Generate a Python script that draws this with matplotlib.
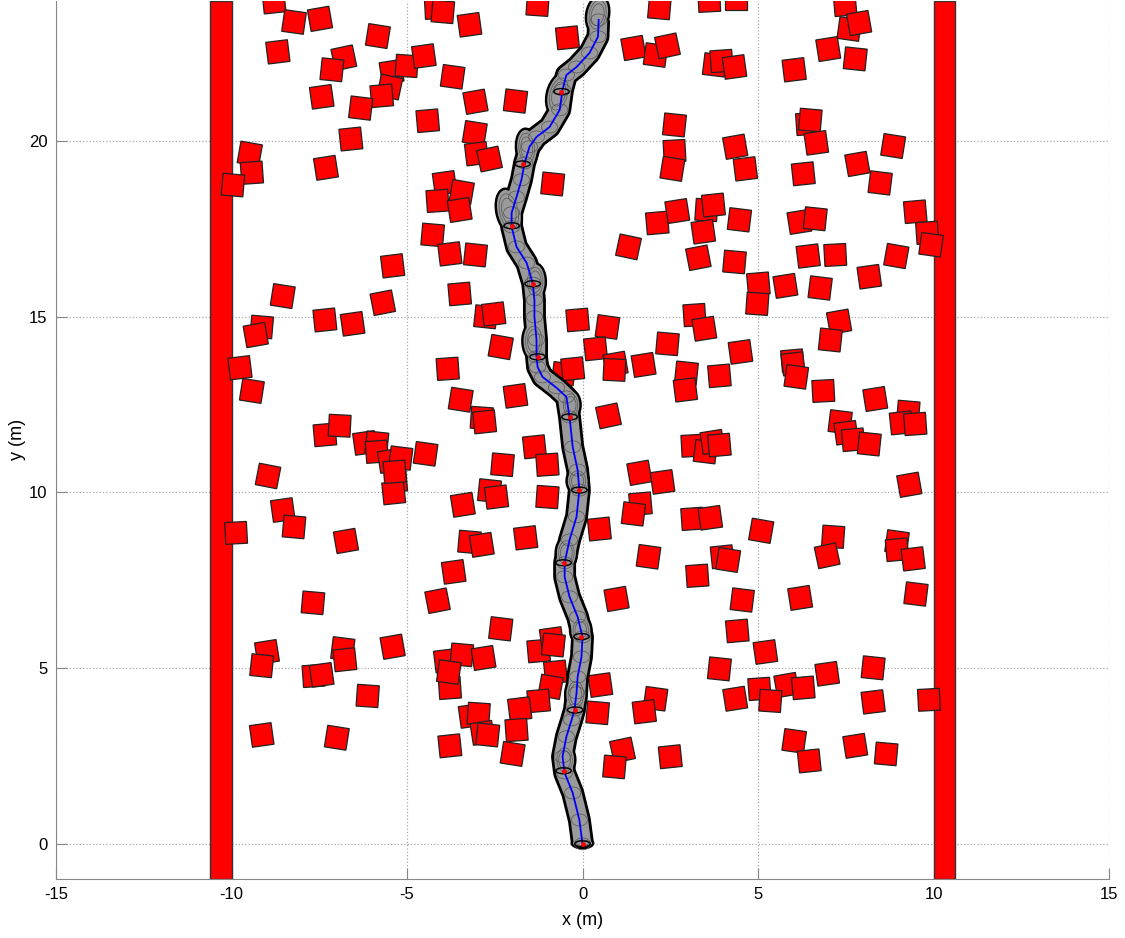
import matplotlib
matplotlib.use("Agg")
from matplotlib import pyplot as plt
from matplotlib.patches import Rectangle, Ellipse

# obstacle centres (m) and their tilt (deg)
obs_x = [-8.79, -8.22, -7.48, -5.83, -8.68, -6.80, -7.14, -5.44, -5.01, -4.52,
         -5.49, -5.72, -7.43, -6.32, -6.60, -9.48, -9.42, -9.96, -7.31, -5.41,
         -8.54, -5.69, -4.18, -3.98, -3.22, -1.28, -0.43, -3.70, -3.05, -1.91,
         -4.41, -3.07, -3.02, -2.65, -0.85, -3.93, -3.44, -4.13, -3.50, -4.27,
         -3.78, -3.05, -3.50, 1.45, 2.08, 2.42, 2.19, 3.61, 4.38, 3.76,
         3.96, 4.33, 2.62, 2.62, 2.56, 4.35, 4.64, 1.31, 2.13, 2.70,
         3.53, 3.73, 3.44, 4.47, 3.30, 4.33, 7.48, 7.60, 7.88, 7.00,
         7.77, 6.03, 6.40, 6.49, 6.66, 8.85, 6.29, 7.83, 8.48, 9.48,
         9.82, 9.93, 6.18, 6.63, 6.43, 7.20, 8.94, 8.17, 5.01, 4.98,
         5.78, 6.77, -7.34, -6.55, -9.14, -9.31, -9.76, -9.42, -7.34, -6.92,
         -6.20, -5.86, -5.86, -5.49, -5.18, -5.32, -5.38, -8.96, -8.54, -8.22,
         -9.87, -6.74, -2.76, -2.53, -0.14, 0.71, 3.19, 3.47, -2.33, 0.37,
         2.42, 4.50, -3.84, -0.54, -0.28, 0.94, 0.91, 1.74, 2.96, 2.93,
         3.90, -3.47, -1.91, 0.74, -2.87, -2.79, 3.13, 3.50, 3.70, 3.90,
         -4.47, -1.37, -1.00, -2.28, 1.62, 2.28, -2.65, -2.45, -1.00, -3.41,
         1.65, 1.45, 3.13, 3.64, 5.09, 0.48, -3.22, -2.87, -1.62, 1.88,
         3.27, 3.98, 4.15, -3.67, 7.31, 7.06, 5.98, 6.00, 6.09, 6.86,
         8.34, 9.28, 9.08, 9.48, 7.34, 7.51, 7.71, 8.17, 9.31, 7.14,
         6.97, 8.96, 8.96, 9.42, -7.68, -8.99, -9.14, -7.66, -7.43, -6.83,
         -6.77, -5.41, -6.12, -9.14, -7.00, -4.13, -2.33, -1.25, -0.88, -0.83,
         -3.90, -3.44, -2.82, -3.78, -3.81, -0.77, -0.91, -1.25, -3.19, -2.96,
         -2.85, -2.70, -1.79, -1.88, -1.99, -3.78, 0.51, 0.43, 0.97, 4.55,
         4.41, 5.21, 3.90, 4.35, 5.04, 2.08, 1.76, 1.14, 0.91, 2.50,
         6.20, 9.50, 6.97, 8.28, 5.81, 6.29, 5.35, 8.28, 9.87, 6.03,
         6.46, 7.77, 8.65, -5.35]
obs_y = [23.96, 23.39, 23.48, 22.99, 22.54, 22.37, 22.03, 21.97, 22.14, 22.42,
         21.54, 21.29, 21.26, 20.94, 20.06, 19.64, 19.10, 18.75, 19.24, 16.45,
         15.59, 15.40, 23.79, 23.68, 23.31, 23.88, 22.94, 21.83, 21.12, 21.14,
         20.58, 20.23, 19.64, 19.49, 18.78, 18.81, 18.55, 18.30, 18.04, 17.33,
         16.79, 16.76, 15.65, 22.65, 22.45, 22.71, 23.79, 23.99, 24.05, 22.17,
         22.28, 22.11, 20.46, 19.72, 19.21, 19.84, 19.21, 16.99, 17.67, 18.01,
         18.04, 18.18, 17.42, 17.76, 16.68, 16.56, 23.88, 23.19, 23.36, 22.62,
         22.34, 22.03, 20.49, 20.60, 19.95, 19.86, 19.07, 19.35, 18.81, 17.99,
         17.39, 17.05, 17.70, 17.79, 16.73, 16.76, 16.73, 16.14, 15.94, 15.37,
         15.88, 15.82, 14.91, 14.80, 14.71, 14.48, 13.55, 12.89, 11.64, 11.90,
         11.41, 11.41, 11.16, 10.90, 10.98, 10.33, 9.99, 10.47, 9.50, 9.02,
         8.85, 8.62, 15.00, 15.08, 14.91, 14.71, 15.05, 14.66, 14.14, 14.09,
         14.23, 14.00, 13.52, 13.38, 13.52, 13.66, 13.49, 13.63, 13.40, 12.92,
         13.32, 12.64, 12.75, 12.18, 12.12, 12.01, 11.33, 11.16, 11.44, 11.35,
         11.10, 11.30, 10.79, 10.79, 10.56, 10.30, 10.05, 9.87, 9.87, 9.65,
         9.68, 9.39, 9.25, 9.28, 8.91, 8.96, 8.59, 8.51, 8.71, 8.17,
         7.63, 8.17, 8.08, 7.74, 14.86, 14.34, 13.75, 13.66, 13.29, 12.89,
         12.66, 12.29, 11.98, 11.95, 12.01, 11.70, 11.50, 11.38, 10.22, 8.74,
         8.20, 8.59, 8.37, 8.11, 6.86, 5.46, 5.07, 4.78, 4.81, 5.55,
         5.24, 5.61, 4.21, 3.10, 3.02, 6.92, 6.12, 5.49, 5.83, 5.66,
         5.21, 5.38, 5.29, 4.44, 4.89, 4.89, 4.47, 4.07, 3.64, 3.70,
         3.16, 3.10, 3.84, 3.24, 2.56, 2.79, 4.52, 3.73, 6.97, 6.94,
         6.06, 5.46, 4.98, 4.13, 4.41, 4.13, 3.76, 2.67, 2.19, 2.48,
         7.00, 7.11, 4.84, 5.01, 4.52, 4.44, 4.07, 4.04, 4.10, 2.93,
         2.36, 2.79, 2.56, 10.59]
obs_tilt = [6, -8, 10, -9, 7, 12, -6, 9, -4, 8,
            -12, 5, 8, -7, 6, -10, 4, -5, 9, 7,
            -9, 11, 3, -5, 8, -4, 6, -8, 10, -7,
            5, -9, 7, 12, -6, 8, -10, 4, 9, -5,
            7, -6, 5, 10, -8, 12, -5, 3, 0, -7,
            4, 8, -6, 3, -9, 10, 7, -12, 5, 9,
            -4, 6, 8, -7, 11, -5, 5, -8, 10, 9,
            -6, 7, 4, -5, 8, -9, 6, 10, -7, 5,
            4, -8, 9, -6, 7, 3, -10, 8, 5, -4,
            9, -7, 6, 8, -5, 10, 7, -9, 5, -3,
            8, -6, 4, 9, -7, 5, 6, -11, 8, -5,
            3, 10, -6, 7, 5, -8, 4, 9, -10, 6,
            -5, 8, 4, -7, 6, 10, -3, 9, -6, 7,
            5, -9, 8, 12, -4, 6, 3, -7, 9, 5,
            -8, 6, 4, -5, 10, 8, -6, 7, -4, 9,
            5, -7, 4, 8, -10, 6, -5, 9, 7, -8,
            4, 6, -9, 8, 10, -6, 5, 7, -8, 3,
            9, -5, 6, 4, -7, 8, 5, -6, 10, -4,
            12, -8, 5, 7, -5, 9, -6, 4, 8, -7,
            6, 10, -4, 8, -9, 11, -7, 5, 8, -6,
            7, -5, 9, 4, -8, 6, -10, 5, 8, -4,
            9, -6, 7, 4, -9, 6, 8, -5, 10, -7,
            5, 8, -6, 9, 4, -8, 7, 12, -5, 6,
            9, -7, 8, -6, 10, 5, -4, 7, 3, -8,
            6, 9, -5, 4]
obs_side = 0.62

# corridor walls (m)
wall_left = [-10.6, 10.0]
wall_width = 0.6

# estimated robot path (m)
path_x = [0.0, -0.09, -0.28, -0.51, -0.57, -0.46, -0.31, -0.23, -0.17, -0.14,
          -0.03, 0.0, -0.14, -0.37, -0.51, -0.51, -0.37, -0.17, -0.09, -0.14,
          -0.28, -0.37, -0.46, -0.74, -1.14, -1.28, -1.31, -1.31, -1.37, -1.37,
          -1.42, -1.59, -1.88, -2.02, -2.02, -1.88, -1.74, -1.65, -1.51, -1.31,
          -0.94, -0.65, -0.57, -0.46, -0.17, 0.20, 0.44, 0.46]
path_y = [0.0, 0.68, 1.45, 2.02, 2.48, 3.05, 3.53, 3.81, 4.30, 4.75,
          5.32, 5.89, 6.46, 7.03, 7.60, 8.0, 8.65, 9.31, 10.07, 10.64,
          11.30, 12.15, 12.72, 12.98, 13.29, 13.57, 13.86, 14.34, 15.0, 15.48,
          15.96, 16.53, 16.99, 17.56, 17.96, 18.41, 18.9, 19.38, 19.84, 20.12,
          20.40, 20.89, 21.46, 21.88, 22.11, 22.51, 22.97, 23.45]

# key poses on the path
key_x = [0.0, -0.54, -0.21, -0.03, -0.54, -0.09, -0.37, -1.28, -1.42, -2.02, -1.71, -0.60]
key_y = [0.0, 2.08, 3.81, 5.90, 8.00, 10.07, 12.15, 13.86, 15.94, 17.59, 19.35, 21.41]

# uncertainty bulges: centre, width, height, angle
blob_x = [0.0, -0.51, -0.19, -0.05, -0.46, -0.14, -0.34, -1.39, -1.35, -2.10, -1.59, -0.68, 0.43]
blob_y = [0.02, 2.39, 4.25, 6.08, 8.28, 10.33, 12.49, 14.31, 16.00, 18.00, 19.80, 21.34, 23.60]
blob_w = [0.68, 0.68, 0.68, 0.68, 0.68, 0.70, 0.64, 0.72, 0.68, 0.78, 0.68, 0.74, 0.72]
blob_h = [0.36, 0.98, 1.06, 0.90, 0.98, 0.84, 0.92, 1.18, 1.12, 1.38, 1.18, 1.28, 1.15]
blob_a = [0, 0, 0, 0, 0, 0, 0, 0, 0, 12, 5, -15, -10]


plt.rcParams['font.family'] = ['Liberation Sans', 'DejaVu Sans']
plt.rcParams['axes.unicode_minus'] = False
fig = plt.figure(figsize=(11.25, 9.38), dpi=100)
ax = fig.add_axes([0.0498, 0.0629, 0.936, 0.9365])
ax.set_xlim(-15, 15)
ax.set_ylim(-1, 24)

# walls
for wx in wall_left:
    ax.add_patch(Rectangle((wx, -1), wall_width, 25, facecolor='#ff0000',
                           edgecolor='#333333', lw=1, zorder=2))

# obstacles
for ox, oy, ot in zip(obs_x, obs_y, obs_tilt):
    ax.add_patch(Rectangle((ox - obs_side / 2, oy - obs_side / 2), obs_side, obs_side,
                           angle=ot, rotation_point='center', facecolor='#ff0000',
                           edgecolor='#222222', lw=0.9, zorder=2))

# path tube: black outline then grey fill
ax.plot(path_x, path_y, color='black', lw=16.5, solid_capstyle='butt',
        solid_joinstyle='round', zorder=3)
for bx, by, bw, bh, ba in zip(blob_x, blob_y, blob_w, blob_h, blob_a):
    ax.add_patch(Ellipse((bx, by), bw, bh, angle=ba, facecolor='black', lw=0, zorder=3))
ax.plot(path_x, path_y, color='#9a9a9a', lw=12.5, solid_capstyle='butt',
        solid_joinstyle='round', zorder=4)
for bx, by, bw, bh, ba in zip(blob_x, blob_y, blob_w, blob_h, blob_a):
    ax.add_patch(Ellipse((bx, by), bw - 0.14, bh - 0.14, angle=ba,
                         facecolor='#9a9a9a', lw=0, zorder=4))

# texture of the individual covariance ellipses
for px, py in zip(path_x, path_y):
    ax.add_patch(Ellipse((px, py), 0.46, 0.34, facecolor='none',
                         edgecolor='#555555', lw=0.5, zorder=5))
for bx, by, bw, bh, ba in zip(blob_x, blob_y, blob_w, blob_h, blob_a):
    for s in (0.82, 0.62):
        ax.add_patch(Ellipse((bx, by), (bw - 0.14) * s, (bh - 0.14) * s, angle=ba,
                             facecolor='none', edgecolor='#555555', lw=0.5, zorder=5))

ax.plot(path_x, path_y, color='#0000ff', lw=1.3, zorder=6)

# key poses
for kx, ky in zip(key_x, key_y):
    ax.add_patch(Ellipse((kx, ky), 0.44, 0.17, facecolor='none',
                         edgecolor='black', lw=1.0, zorder=7))
ax.plot(key_x, key_y, 'o', ms=2.5, mfc='#ff0000', mec='#ff0000', lw=0, zorder=8)

# axes styling
ax.set_xticks([-15, -10, -5, 0, 5, 10, 15])
ax.set_yticks([0, 5, 10, 15, 20])
ax.grid(True, linestyle=':', color='#a8a8a8', lw=0.9)
ax.set_axisbelow(True)
for side in ('top', 'right'):
    ax.spines[side].set_visible(False)
for side in ('left', 'bottom'):
    ax.spines[side].set_color('#888888')
ax.tick_params(direction='in', length=8, color='#888888', labelsize=12,
               labelcolor='black', pad=6)
ax.set_xlabel('x (m)', fontsize=13, labelpad=7)
ax.set_ylabel('y (m)', fontsize=13, labelpad=2)

fig.savefig('out.png', dpi=100)
